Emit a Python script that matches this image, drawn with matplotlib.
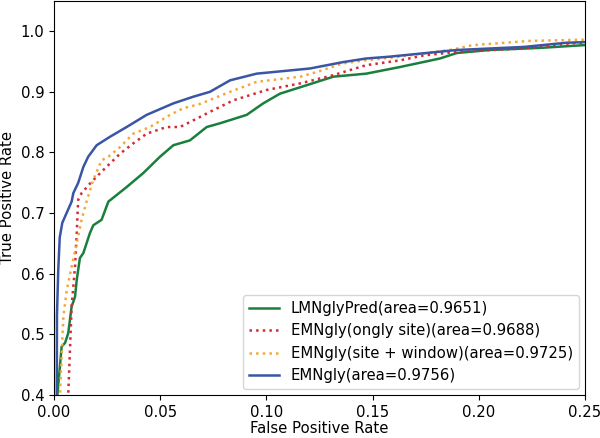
import numpy as np
import matplotlib.pyplot as plt

# ROC points (FPR, TPR)
lmn_fpr = [0.0, 0.0016, 0.0036, 0.0052, 0.0067, 0.0083, 0.0099, 0.0107, 0.0122, 0.0138,
           0.0169, 0.0185, 0.0224, 0.0256, 0.0342, 0.042, 0.0499, 0.0562, 0.064, 0.0719,
           0.078, 0.0907, 0.0985, 0.1064, 0.119, 0.1315, 0.147, 0.163, 0.1817, 0.1896,
           0.205, 0.229, 0.2495, 0.5, 1.0]
lmn_tpr = [0.0, 0.40, 0.48, 0.486, 0.502, 0.546, 0.562, 0.59, 0.626, 0.634,
           0.667, 0.68, 0.689, 0.719, 0.743, 0.766, 0.793, 0.812, 0.82, 0.842,
           0.848, 0.862, 0.881, 0.897, 0.911, 0.925, 0.93, 0.941, 0.955, 0.964,
           0.969, 0.9725, 0.977, 0.995, 1.0]

site_fpr = [0.0, 0.0067, 0.0083, 0.0099, 0.0107, 0.0114, 0.013, 0.017, 0.0217, 0.0264,
            0.0311, 0.0373, 0.0436, 0.053, 0.0593, 0.0656, 0.0734, 0.0844, 0.100, 0.116,
            0.1315, 0.147, 0.163, 0.174, 0.1896, 0.221, 0.243, 0.25, 0.5, 1.0]
site_tpr = [0.0, 0.40, 0.546, 0.612, 0.667, 0.722, 0.733, 0.749, 0.766, 0.782,
            0.798, 0.815, 0.831, 0.842, 0.842, 0.853, 0.867, 0.886, 0.903, 0.914,
            0.9275, 0.944, 0.952, 0.96, 0.966, 0.9715, 0.98, 0.981, 0.996, 1.0]

win_fpr = [0.0, 0.0028, 0.0044, 0.006, 0.0083, 0.0107, 0.013, 0.0154, 0.0185, 0.0224,
           0.0256, 0.0311, 0.0373, 0.0452, 0.0546, 0.0609, 0.0687, 0.0829, 0.0954, 0.116,
           0.124, 0.136, 0.147, 0.163, 0.188, 0.197, 0.224, 0.25, 0.5, 1.0]
win_tpr = [0.0, 0.40, 0.529, 0.573, 0.612, 0.65, 0.689, 0.72, 0.755, 0.787,
           0.793, 0.809, 0.831, 0.842, 0.862, 0.873, 0.88, 0.9, 0.9165, 0.925,
           0.933, 0.947, 0.952, 0.958, 0.97, 0.977, 0.984, 0.986, 0.997, 1.0]

emn_fpr = [0.0, 0.0013, 0.0014, 0.002, 0.0027, 0.0039, 0.0083, 0.0091, 0.0114, 0.0138,
           0.0161, 0.0201, 0.0264, 0.0342, 0.0436, 0.0562, 0.0656, 0.0734, 0.0829, 0.0954,
           0.1205, 0.136, 0.147, 0.158, 0.1896, 0.221, 0.2414, 0.25, 0.5, 1.0]
emn_tpr = [0.0, 0.40, 0.532, 0.606, 0.66, 0.684, 0.719, 0.733, 0.75, 0.776,
           0.793, 0.812, 0.826, 0.842, 0.862, 0.881, 0.892, 0.9, 0.919, 0.93,
           0.9385, 0.949, 0.955, 0.958, 0.969, 0.974, 0.981, 0.982, 0.997, 1.0]

labels = ['LMNglyPred(area=0.9651)', 'EMNgly(ongly site)(area=0.9688)',
          'EMNgly(site + window)(area=0.9725)', 'EMNgly(area=0.9756)']

plt.rcParams['font.size'] = 10.7

fig = plt.figure(figsize=(6, 4.38), dpi=100)
ax = fig.add_axes([0.09, 0.098, 0.885, 0.9])

ax.plot(lmn_fpr, lmn_tpr, color='#1a7f3c', lw=1.8, label=labels[0])
ax.plot(site_fpr, site_tpr, color='#d42a36', lw=1.8, ls=':', label=labels[1])
ax.plot(win_fpr, win_tpr, color='#f2a93b', lw=1.8, ls=':', label=labels[2])
ax.plot(emn_fpr, emn_tpr, color='#3a55a4', lw=1.8, label=labels[3])

ax.set_xlim(0.0, 0.25)
ax.set_ylim(0.4, 1.05)
ax.set_xticks([0.0, 0.05, 0.10, 0.15, 0.20, 0.25])
ax.set_yticks([0.4, 0.5, 0.6, 0.7, 0.8, 0.9, 1.0])
ax.set_xlabel('False Positive Rate', labelpad=1)
ax.set_ylabel('True Positive Rate')
ax.legend(loc='lower right', borderaxespad=0.4)

fig.savefig('out.png', dpi=100)
